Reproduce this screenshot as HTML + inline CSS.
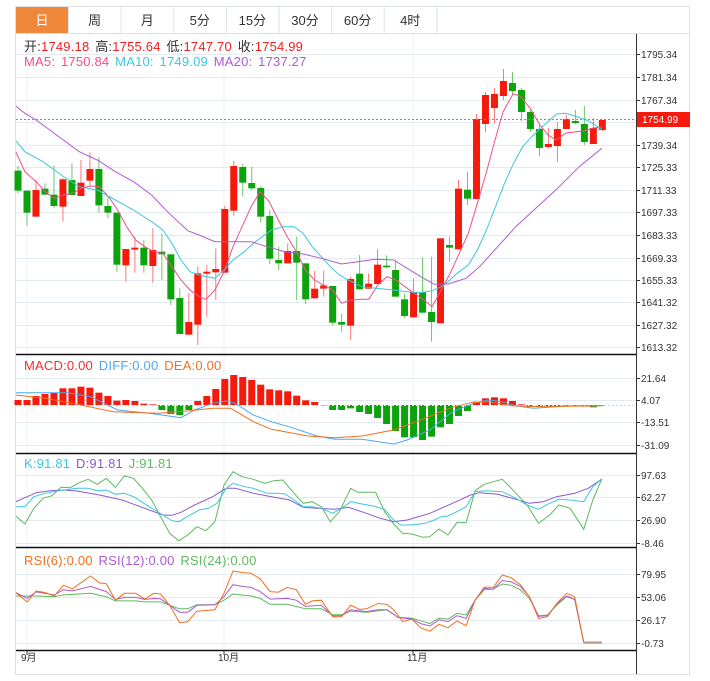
<!DOCTYPE html>
<html><head><meta charset="utf-8">
<style>
body{margin:0;background:#fff;width:710px;height:681px;overflow:hidden;font-family:"Liberation Sans","Noto Sans CJK SC",sans-serif}
svg{position:absolute;left:0;top:0}
</style></head><body>
<svg id="s" width="710" height="681" xmlns="http://www.w3.org/2000/svg" font-family="Liberation Sans, Noto Sans CJK SC, sans-serif"></svg>
<script>
var S=document.getElementById('s'),h='';
function L(x1,y1,x2,y2,c,w,d){h+='<line x1="'+x1+'" y1="'+y1+'" x2="'+x2+'" y2="'+y2+'" stroke="'+c+'" stroke-width="'+(w||1)+'"'+(d?' stroke-dasharray="'+d+'"':'')+'/>';}
function R(x,y,w,hh,c,st){h+='<rect x="'+x+'" y="'+y+'" width="'+w+'" height="'+hh+'" fill="'+c+'"'+(st?' stroke="'+st+'"':'')+'/>';}
function T(x,y,t,c,fs,a){h+='<text x="'+x+'" y="'+y+'" fill="'+c+'" font-size="'+(fs||11)+'"'+(a?' text-anchor="'+a+'"':'')+'>'+t+'</text>';}
function P(pts,c,w){h+='<polyline fill="none" stroke="'+c+'" stroke-width="'+(w||1)+'" points="'+pts.map(function(p){return p[0].toFixed(1)+','+p[1].toFixed(1)}).join(' ')+'"/>';}
function zc(arr,yo,ys){var o=[];for(var i=0;i<arr.length;i+=2)o.push([arr[i]/2.21,yo+arr[i+1]/ys]);return o;}
R(15.5,6.5,674,668,'#fff','#dde3e8');
R(16,7,52,26,'#f0883a');
var tabs=['日','周','月','5分','15分','30分','60分','4时'];
for(var i=0;i<8;i++){var x=16+i*52.6;T(x+26,25,tabs[i],i==0?'#fff':'#333',13,'middle');if(i>0)L(x,7,x,33,'#dde3e8');}
L(437,7,437,33,'#dde3e8');L(16,33.5,690,33.5,'#dde3e8');
[27,224,413].forEach(function(x){L(x,34,x,651,'#eef2f5');});
var gl=[[54,'1795.34'],[77,'1781.34'],[100,'1767.34'],[145,'1739.34'],[167,'1725.33'],[190,'1711.33'],[212,'1697.33'],[235,'1683.33'],[258,'1669.33'],[280,'1655.33'],[302,'1641.32'],[325,'1627.32'],[347,'1613.32'],
[378,'21.64'],[400,'4.07'],[422,'-13.51'],[445,'-31.09'],[475,'97.63'],[497,'62.27'],[520,'26.90'],[543,'-8.46'],[574,'79.95'],[597,'53.06'],[620,'26.17'],[643,'-0.73']];
gl.forEach(function(g){L(16,g[0]+0.5,636,g[0]+0.5,'#e3eaf0');L(636,g[0]+0.5,640,g[0]+0.5,'#333');T(641,g[0]+4,g[1],'#333',10);});
L(16,122.5,636,122.5,'#e3eaf0');
[354.5,453.5,547.5,650.5].forEach(function(y){L(16,y,636,y,'#111',1.5);});
L(636.5,34,636.5,674,'#333');
var C=[[212,272,198,280,0],[272,338,272,378,0],[270,350,240,350,1],[266,284,250,284,0],[284,318,196,325,0],[238,320,235,365,1],[240,285,190,285,0],[248,288,180,288,1],[207,242,157,260,1],[207,316,172,338,0],[318,338,290,355,0],[338,494,338,515,0],[447,496,447,545,1],[443,449,410,518,1],[443,496,420,518,0],[450,498,385,548,1],[455,463,400,540,0],[463,598,463,615,0],[594,702,565,702,0],[666,704,580,704,1],[520,674,500,735,1],[515,521,495,650,1],[507,517,445,600,1],[327,518,318,518,1],[198,332,183,348,1],[201,248,192,290,0],[249,265,200,270,0],[264,350,258,368,0],[348,476,330,492,0],[480,490,440,510,0],[453,490,430,490,1],[453,488,410,600,0],[490,598,490,612,0],[566,595,513,595,1],[556,566,512,590,1],[558,668,558,675,0],[666,674,640,695,0],[537,677,530,720,1],[521,568,465,568,0],[551,566,520,566,1],[494,552,447,552,1],[497,502,466,502,0],[510,590,480,590,0],[598,648,580,655,0],[577,652,535,652,1],[577,638,472,638,0],[636,666,470,725,0],[415,670,415,670,1],[435,443,410,485,0],[266,448,240,448,1],[269,296,215,315,0]];
var cs=C.map(function(c){return [100+c[0]/3,100+c[1]/3,100+c[2]/3,100+c[3]/3,c[4]];});
cs.push([119,199,114,199,1]);
var tail=[[95,124,92,132,1],[94,108,88,123,1],[81,96,69,100,1],[83,91,72,95,0],[90,112,88,121,0],[112,129,110,132,0],[129,148,125,156,0],[144,147,128,148,1],[129,146,122,162,1],[119,129,115,129,1],[121,123,110,124,0],[124,142,106,145,0],[128,144,118,144,1],[120,130,120,131,1]];
cs=cs.concat(tail);
cs.forEach(function(c,i){var x=18+i*8.99;var col=c[4]?'#f51a0c':'#0ca30c',wc=c[4]?'#f77':'#6c6';
L(x,c[2],x,c[3],wc);R(x-3.5,c[0],7,Math.max(1.5,c[1]-c[0]),col);});
P(zc([35,155,55,215,80,245,100,275,120,295,140,285,160,280,180,265,200,258,220,260,240,290,260,330,280,380,300,420,320,440,340,455,360,460,380,500,400,540,420,570,440,590,455,598,475,570,495,515,515,440,535,380,555,320,575,275,595,305,615,360,635,410,655,455,675,510,695,540,715,555,735,570,755,610,775,600,800,598,815,598,835,555,855,530,875,540,895,560,915,580,935,598,955,620,975,570,995,520,1015,460,1035,400,1055,310],100,3).concat([[487,170],[495,140],[503,112],[513,94],[520,96],[530,108],[540,125],[548,135],[556,140],[566,133],[575,132],[584,131],[593,128],[602,127]]),'#f0508a');
P(zc([35,122,55,155,95,185,135,225,175,260,215,270,255,300,295,330,335,365,360,390,380,430,400,480,420,515,440,525,475,535,495,510,515,480,540,455,560,430,580,410,600,390,625,380,650,380,670,400,690,440,710,470,730,500,750,525,770,540,800,560,830,565,870,570,900,575,930,578,955,572,975,560,990,545,1010,520,1035,495,1055,450,1075,390,1095,320,1115,250,1135,190,1155,140,1175,110,1195,85,1215,60,1230,42,1250,40,1270,48,1300,62,1330,88],100,3),'#3cc8dc');
P(zc([35,18,55,40,80,60,110,90,140,120,175,155,215,180,255,215,295,245,335,285,370,335,415,392,440,405,475,425,510,425,555,425,590,440,630,455,670,462,710,475,755,492,790,485,830,478,870,480,900,505,930,530,960,553,990,552,1030,535,1060,500,1100,440,1140,380,1180,330,1230,268,1280,200,1330,145],100,3),'#b05ad0');
L(16,119.5,636,119.5,'#f06060',1,'2,2');R(637,112,53,15,'#f51a0c');T(642,123,'1754.99','#fff',10);
var ls=' font-size="13" letter-spacing="0.2" word-spacing="2"';
h+='<text x="24" y="51"'+ls+'><tspan fill="#333">开:</tspan><tspan fill="#f02020">1749.18</tspan><tspan fill="#333"> 高:</tspan><tspan fill="#f02020">1755.64</tspan><tspan fill="#333"> 低:</tspan><tspan fill="#f02020">1747.70</tspan><tspan fill="#333"> 收:</tspan><tspan fill="#f02020">1754.99</tspan></text>';
h+='<text x="24" y="66"'+ls+'><tspan fill="#f0508a">MA5: 1750.84</tspan><tspan fill="#3cc8dc">  MA10: 1749.09</tspan><tspan fill="#b05ad0">  MA20: 1737.27</tspan></text>';
h+='<text x="24" y="370"'+ls+'><tspan fill="#f03030">MACD:0.00</tspan><tspan fill="#4aa8f0">  DIFF:0.00</tspan><tspan fill="#f07020">  DEA:0.00</tspan></text>';
h+='<text x="24" y="468"'+ls+'><tspan fill="#3cc8dc">K:91.81</tspan><tspan fill="#8a5ad0">  D:91.81</tspan><tspan fill="#5cba5c">  J:91.81</tspan></text>';
h+='<text x="24" y="565"'+ls+'><tspan fill="#f07020">RSI(6):0.00</tspan><tspan fill="#b05ad0">  RSI(12):0.00</tspan><tspan fill="#5cba5c">  RSI(24):0.00</tspan></text>';
var mb=[150,150,138,132,128,115,115,110,113,128,138,152,150,153,161,163,180,192,195,180,153,138,117,87,75,81,90,104,118,121,124,137,151,156,165,180,180,175,186,192,204,222,243,262,262,270,260,232,222,198,183,155,145,142,145,153,163,171,170,169,168,168,168,168,172,167];
var zy=405;
mb.forEach(function(v,i){var x=18+i*8.99;var y=350+v/3;var g=(i>=16&&i<=19)||(i>=35&&i<=50)||i>=57;
if(g)R(x-3.5,zy,7,Math.max(0.5,y-zy),'#0ca30c');else R(x-3.5,y,7,Math.max(0.5,zy-y),'#f51a0c');});
L(16,405.5,636,405.5,'#cde',1,'2,2');
P(zc([35,128,150,128,200,140,260,180,330,190,400,203,430,180,470,160,500,153,520,160,560,195,600,215,650,235,700,258,740,268,800,268,870,282,900,270,950,240,1000,185,1050,158,1080,150,1110,155,1140,168,1180,175,1250,168,1330,167],350,3),'#4aa8f0');
P(zc([35,135,100,145,160,160,250,185,350,190,420,182,470,175,510,175,560,215,600,238,680,258,740,263,800,258,870,240,920,215,1000,172,1040,158,1080,155,1130,167,1200,170,1330,167],350,3),'#f07020');
P(zc([35,198,55,222,75,175,95,145,115,137,135,112,155,113,175,98,195,88,215,103,235,85,255,112,275,78,295,85,315,115,335,150,355,200,375,250,395,272,415,255,435,230,455,242,475,215,495,105,515,65,535,80,560,88,585,100,605,92,625,90,650,130,670,160,690,155,710,170,730,215,750,185,775,115,790,127,830,127,850,185,870,222,890,250,910,252,935,262,950,260,970,237,990,255,1010,217,1030,218,1050,122,1070,103,1090,95,1110,88,1130,115,1165,165,1190,220,1215,195,1235,165,1260,175,1290,238,1310,150,1330,87],450,3),'#5cba5c');
P(zc([35,155,60,140,80,128,110,122,140,120,170,123,220,135,270,150,310,170,340,185,360,195,380,196,400,187,430,165,470,140,500,115,520,115,560,130,600,140,640,150,670,172,700,175,740,178,770,172,810,190,840,205,870,215,900,210,950,190,1000,160,1040,135,1060,128,1100,133,1140,148,1170,160,1200,155,1230,140,1270,130,1300,115,1330,87],450,3),'#8a5ad0');
P(zc([35,170,55,170,75,140,100,130,130,122,170,115,195,115,215,122,235,120,255,133,275,130,295,140,330,170,360,195,380,212,395,215,420,195,440,180,460,175,480,160,500,115,515,100,540,110,560,115,590,130,610,130,630,132,650,150,670,170,690,170,710,175,735,190,755,175,775,155,800,162,825,168,850,178,870,210,885,225,910,225,940,220,960,210,975,200,990,198,1010,185,1030,170,1050,125,1075,122,1110,125,1140,145,1165,165,1190,178,1210,163,1235,148,1260,150,1290,155,1310,110,1330,87],450,3),'#3cc8dc');
P(zc([35,148,80,148,120,150,140,145,200,140,235,150,255,162,300,162,320,165,355,165,375,175,397,185,415,185,435,173,475,173,495,160,515,142,555,148,575,155,597,172,635,172,675,185,710,185,735,202,755,202,775,192,810,195,855,188,880,210,910,212,950,228,970,212,990,215,1010,198,1030,203,1050,160,1070,130,1090,128,1110,113,1130,117,1150,130,1170,155,1190,205,1210,203,1230,175,1252,150,1270,158,1290,282,1330,282],545,2.9),'#5cba5c');
P(zc([35,138,60,155,80,136,120,145,140,130,160,133,200,120,235,135,255,158,275,152,300,152,320,158,340,155,355,156,375,175,397,195,415,195,435,175,475,173,495,150,515,115,535,120,555,123,575,135,597,157,635,155,655,160,675,178,710,175,735,205,755,205,775,188,810,193,835,188,855,188,880,210,910,215,930,228,950,235,970,217,990,222,1010,205,1030,213,1050,160,1070,126,1090,128,1110,103,1130,107,1150,120,1170,150,1190,207,1210,205,1230,172,1252,148,1270,157,1290,282,1330,282],545,2.9),'#b05ad0');
P(zc([35,138,60,165,80,133,100,138,120,148,140,117,160,127,200,90,220,110,235,112,255,160,275,140,300,140,320,157,340,140,355,142,375,175,397,225,415,222,435,192,475,188,495,140,515,75,535,80,555,82,575,98,597,135,615,137,635,123,655,130,675,172,690,162,710,160,735,208,755,208,775,175,795,187,810,185,835,170,855,172,870,188,890,222,910,215,930,240,950,250,970,230,990,240,1010,220,1030,234,1050,160,1070,122,1090,123,1110,87,1130,95,1150,115,1170,150,1190,213,1210,208,1230,170,1252,140,1270,150,1290,282,1330,282],545,2.9),'#f07020');
L(584,643,602,643,'#aaa',1.5);
[[27,'9月'],[224,'10月'],[413,'11月']].forEach(function(d){L(d[0],651,d[0],655,'#333');T(d[0]-6,661,d[1],'#333',10);});
S.innerHTML=h;
</script>
</body></html>
